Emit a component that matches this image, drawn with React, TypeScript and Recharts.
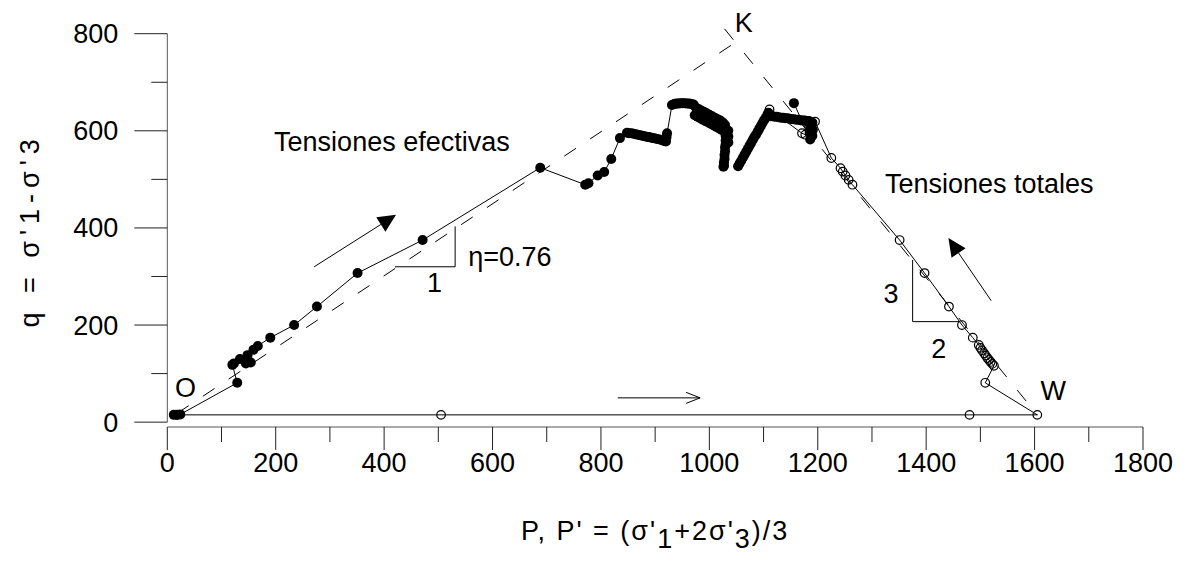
import React from "react";
import { ComposedChart, Line, XAxis, YAxis, ReferenceLine, ReferenceDot } from "recharts";

const FONT = '"Liberation Sans", Arial, Helvetica, sans-serif';
const FS = 27;

const xTicks = [0, 100, 200, 300, 400, 500, 600, 700, 800, 900, 1000, 1100, 1200, 1300, 1400, 1500, 1600, 1700, 1800];
const yTicks = [0, 100, 200, 300, 400, 500, 600, 700, 800];

// effective stress path, first leg (filled circles)
const effP1 = [12, 18, 24, 129, 120, 123, 134, 145, 154, 148, 159, 167, 190, 234, 276, 351, 471, 688, 771, 777, 794, 806, 819, 835,
  848, 852, 856, 860, 864, 868, 872, 876, 880, 884, 888, 892, 896, 900, 904, 908, 912, 916, 920, 921, 922,
  931, 935, 939, 943, 947, 951, 955, 959, 963, 967, 971,
  975, 973, 980, 978, 985, 983, 990, 988, 995, 993, 1000, 998, 1005, 1003, 1010, 1008, 1015, 1013, 1020, 1018, 1025, 1023, 1029, 1028,
  1035, 1030, 1035, 1030, 1035, 1030, 1029, 1029, 1028, 1028, 1027, 1027, 1026];
const effQ1 = [15, 15, 16, 81, 118, 121, 130, 121, 123, 138, 149, 157, 174, 200, 238, 307, 375, 524, 489, 492, 508, 515, 542, 585,
  596, 595, 595, 594, 593, 592, 591, 590, 589, 588, 587, 586, 585, 584, 583, 582, 581, 579, 578, 587, 595,
  653, 655, 656, 656, 657, 657, 657, 656, 656, 655, 654,
  648, 632, 645, 629, 642, 626, 639, 623, 636, 620, 633, 617, 630, 614, 627, 611, 624, 608, 621, 605, 617, 602, 612, 598,
  600, 590, 588, 580, 576, 572, 566, 558, 550, 542, 535, 528, 526];

// effective stress path, second leg
const effP2 = [1053, 1056, 1059, 1062, 1065, 1068, 1071, 1074, 1077, 1080, 1083, 1086, 1089, 1092, 1095, 1098, 1101, 1104, 1107, 1109,
  1112, 1116, 1120, 1124, 1128, 1132, 1136, 1140, 1144, 1148, 1152, 1156, 1160, 1164, 1168, 1172, 1176, 1180, 1184,
  1190, 1186, 1191, 1185, 1190, 1186, 1156];
const effQ2 = [527, 533, 539, 545, 551, 557, 563, 569, 575, 581, 587, 592, 598, 604, 610, 616, 622, 627, 633, 637,
  630, 630, 629, 629, 628, 627, 627, 626, 626, 625, 624, 624, 623, 623, 622, 621, 621, 620, 620,
  617, 608, 602, 596, 590, 582, 657];

// total stress path (open circles)
const totP = [18, 505, 1480, 1605, 1509, 1525, 1522, 1519, 1516, 1513, 1510, 1507, 1503, 1500, 1497, 1486, 1466, 1442, 1397,
  1351, 1264, 1257, 1251, 1246, 1242, 1225, 1195, 1177, 1171, 1111];
const totQ = [15, 15, 15, 15, 81, 116, 120, 124, 128, 132, 137, 142, 148, 153, 159, 174, 200, 238, 307,
  375, 489, 499, 508, 516, 523, 544, 619, 592, 595, 644];

// envelope O-K-W
const okP = [18, 1048];
const okQ = [18, 782];
const kwP = [1028, 1605];
const kwQ = [810, 15];

const toPts = (p: number[], q: number[]) => p.map((v, i) => ({ p: v, q: q[i] }));
const eff1 = toPts(effP1, effQ1);
const eff2 = toPts(effP2, effQ2);
const tot = toPts(totP, totQ);

const XTick = (props: any) => {
  const { x, y, payload } = props;
  const major = payload.value % 200 === 0;
  return (
    <g>
      <line x1={x} x2={x} y1={y} y2={y + (major ? 23 : 15)} stroke="#222" />
      {major && (
        <text x={x} y={y + 45} textAnchor="middle" fontSize={FS} fontFamily={FONT} fill="#000">
          {payload.value}
        </text>
      )}
    </g>
  );
};

const YTick = (props: any) => {
  const { x, y, payload } = props;
  const major = payload.value % 200 === 0;
  return (
    <g>
      <line x1={x - (major ? 33 : 16)} x2={x} y1={y} y2={y} stroke="#222" />
      {major && (
        <text x={x - 49} y={y + 9.5} textAnchor="end" fontSize={FS} fontFamily={FONT} fill="#000">
          {payload.value}
        </text>
      )}
    </g>
  );
};

const XTitle = (props: any) => {
  const vb = props.viewBox;
  return (
    <text x={vb.x + vb.width / 2} y={vb.y + 113} textAnchor="middle" fontSize={FS} fontFamily={FONT} letterSpacing={2} fill="#000">
      P, P' = (σ'<tspan dy={8}>1</tspan>
      <tspan dy={-8}>+2σ'</tspan>
      <tspan dy={8}>3</tspan>
      <tspan dy={-8}>)/3</tspan>
    </text>
  );
};

const YTitle = (props: any) => {
  const vb = props.viewBox;
  const cx = vb.x + 31;
  const cy = vb.y + vb.height / 2;
  return (
    <text x={cx} y={cy} transform={`rotate(-90, ${cx}, ${cy})`} textAnchor="middle" fontSize={FS} fontFamily={FONT} letterSpacing={6} fill="#000">
      q = σ'1-σ'3
    </text>
  );
};

const Txt = (s: string, anchor: "start" | "middle" = "start") => (props: any) => (
  <text x={props.cx} y={props.cy} textAnchor={anchor} fontSize={FS} fontFamily={FONT} fill="#000">
    {s}
  </text>
);

const Arrow = (open: boolean) => (props: any) => {
  const { x1, y1, x2, y2 } = props;
  const dx = x2 - x1;
  const dy = y2 - y1;
  const len = Math.hypot(dx, dy) || 1;
  const ux = dx / len;
  const uy = dy / len;
  const L = open ? 14 : 18;
  const W = open ? 5.5 : 8.5;
  const bx = x2 - ux * L;
  const by = y2 - uy * L;
  const ax = bx - uy * W;
  const ay = by + ux * W;
  const cx = bx + uy * W;
  const cy = by - ux * W;
  if (open) {
    return (
      <g>
        <line x1={x1} y1={y1} x2={x2} y2={y2} stroke="#000" strokeWidth={1} />
        <polyline points={`${ax},${ay} ${x2},${y2} ${cx},${cy}`} fill="none" stroke="#000" strokeWidth={1} />
      </g>
    );
  }
  return (
    <g>
      <line x1={x1} y1={y1} x2={bx} y2={by} stroke="#000" strokeWidth={1} />
      <polygon points={`${ax},${ay} ${x2},${y2} ${cx},${cy}`} fill="#000" />
    </g>
  );
};

const OpenDot = (props: any) => {
  const { cx, cy, index } = props;
  return <circle key={index} cx={cx} cy={cy} r={4.3} fill="none" stroke="#000" strokeWidth={1.2} />;
};

export default function App() {
  return (
    <div style={{ fontFamily: FONT }}>
      <ComposedChart width={1171} height={551} margin={{ top: 25.7, right: 36, bottom: 7, left: 0 }}>
        <XAxis
          type="number"
          dataKey="p"
          domain={[0, 1800]}
          ticks={xTicks}
          interval={0}
          allowDataOverflow
          tickSize={0}
          tickMargin={0}
          tickLine={false}
          axisLine={{ stroke: "#555" }}
          height={125}
          tick={(p: any) => <XTick {...p} />}
          label={{ content: (p: any) => <XTitle {...p} /> }}
        />
        <YAxis
          type="number"
          domain={[-10, 800]}
          ticks={yTicks}
          interval={0}
          allowDataOverflow
          width={159.3}
          axisLine={false}
          tickSize={0}
          tickMargin={0}
          tickLine={false}
          tick={(p: any) => <YTick {...p} />}
          label={{ content: (p: any) => <YTitle {...p} /> }}
        />
        <ReferenceLine segment={[{ x: 0, y: 0 }, { x: 0, y: 800 }]} stroke="#555" ifOverflow="visible" />

        <ReferenceLine segment={[{ x: okP[0], y: okQ[0] }, { x: okP[1], y: okQ[1] }]} stroke="#000" strokeDasharray="14 17" ifOverflow="visible" />
        <ReferenceLine segment={[{ x: kwP[0], y: kwQ[0] }, { x: kwP[1], y: kwQ[1] }]} stroke="#000" strokeDasharray="14 17" ifOverflow="visible" />

        <ReferenceLine segment={[{ x: 420, y: 320 }, { x: 531, y: 320 }]} stroke="#000" ifOverflow="visible" />
        <ReferenceLine segment={[{ x: 531, y: 320 }, { x: 531, y: 403 }]} stroke="#000" ifOverflow="visible" />
        <ReferenceLine segment={[{ x: 1375, y: 334 }, { x: 1375, y: 207 }]} stroke="#000" ifOverflow="visible" />
        <ReferenceLine segment={[{ x: 1375, y: 207 }, { x: 1462, y: 207 }]} stroke="#000" ifOverflow="visible" />

        <ReferenceLine segment={[{ x: 271, y: 320 }, { x: 422, y: 427 }]} ifOverflow="visible" shape={Arrow(false)} />
        <ReferenceLine segment={[{ x: 1520, y: 250 }, { x: 1441, y: 379 }]} ifOverflow="visible" shape={Arrow(false)} />
        <ReferenceLine segment={[{ x: 831, y: 50 }, { x: 983, y: 50 }]} ifOverflow="visible" shape={Arrow(true)} />

        <Line data={tot} dataKey="q" stroke="#000" strokeWidth={1} dot={(p: any) => <OpenDot {...p} />} isAnimationActive={false} />
        <Line data={eff1} dataKey="q" stroke="#000" strokeWidth={1} dot={{ r: 5, fill: "#000", stroke: "#000", strokeWidth: 0 }} isAnimationActive={false} />
        <Line data={eff2} dataKey="q" stroke="#000" strokeWidth={1} dot={{ r: 5, fill: "#000", stroke: "#000", strokeWidth: 0 }} isAnimationActive={false} />

        <ReferenceDot x={14} y={52} r={0} ifOverflow="visible" shape={Txt("O")} />
        <ReferenceDot x={1047} y={804} r={0} ifOverflow="visible" shape={Txt("K")} />
        <ReferenceDot x={1611} y={46} r={0} ifOverflow="visible" shape={Txt("W")} />
        <ReferenceDot x={197} y={559} r={0} ifOverflow="visible" shape={Txt("Tensiones efectivas")} />
        <ReferenceDot x={1324} y={471.5} r={0} ifOverflow="visible" shape={Txt("Tensiones totales")} />
        <ReferenceDot x={555} y={322} r={0} ifOverflow="visible" shape={Txt("η=0.76")} />
        <ReferenceDot x={493} y={269} r={0} ifOverflow="visible" shape={Txt("1", "middle")} />
        <ReferenceDot x={1335} y={245} r={0} ifOverflow="visible" shape={Txt("3", "middle")} />
        <ReferenceDot x={1423} y={132} r={0} ifOverflow="visible" shape={Txt("2", "middle")} />
      </ComposedChart>
    </div>
  );
}
